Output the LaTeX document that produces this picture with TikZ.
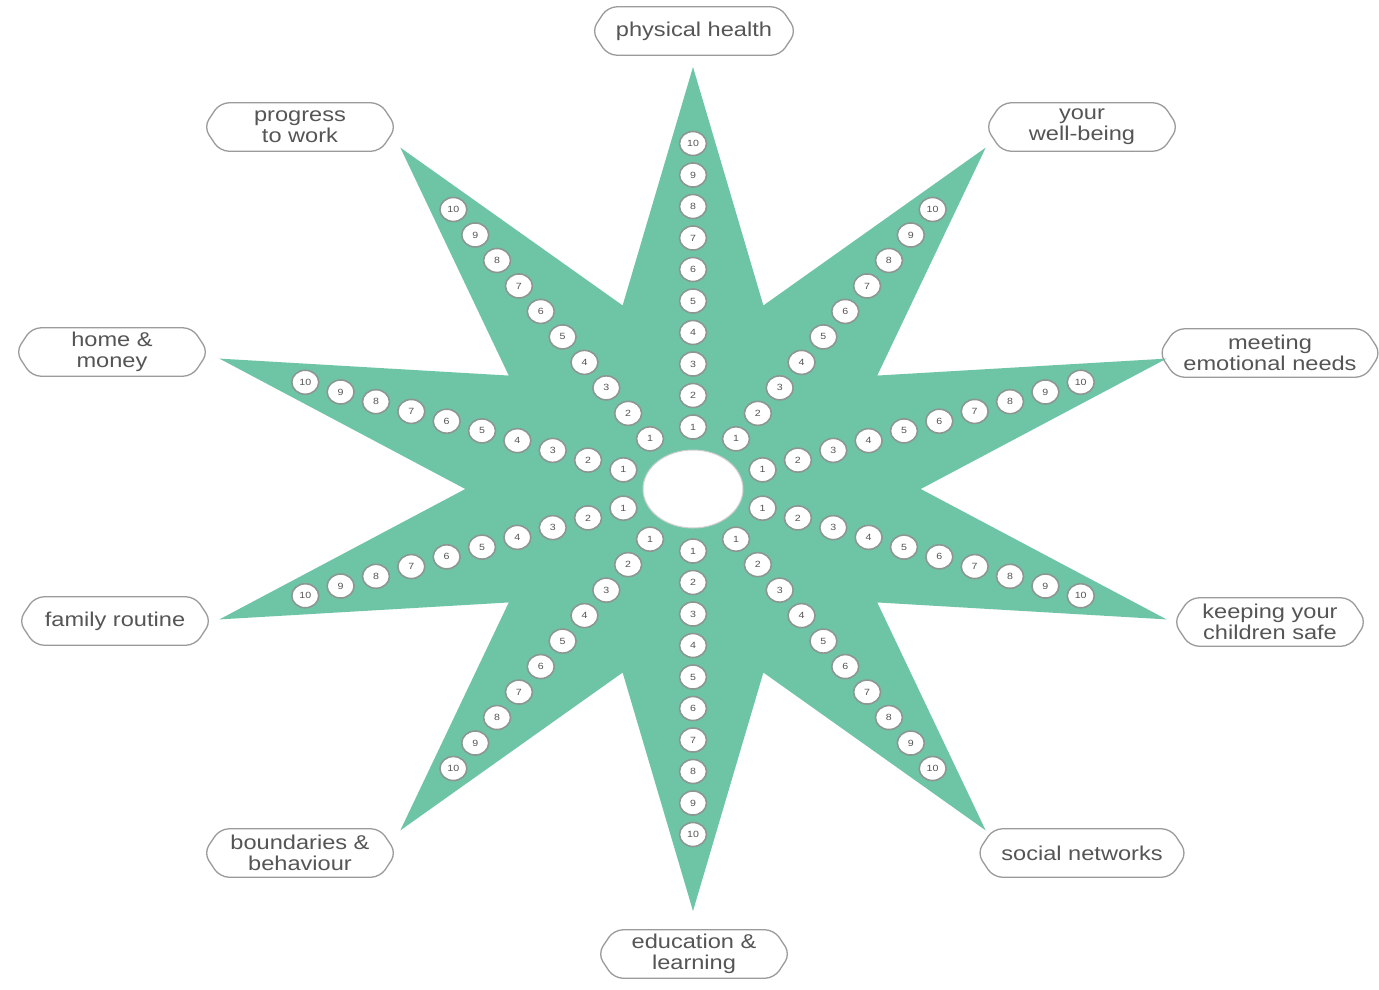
\documentclass[tikz,border=0pt]{standalone}
\usepackage{fontspec}
\newfontfamily\lblfont[FakeStretch=1.18]{Liberation Sans}
\usetikzlibrary{shapes.geometric,calc}
\definecolor{starteal}{RGB}{110,197,166}
\definecolor{boxgray}{RGB}{155,155,155}
\definecolor{txtgray}{RGB}{85,85,85}
\definecolor{dotgray}{RGB}{140,150,146}
\begin{document}
\begin{tikzpicture}[x=1pt,y=-1pt,
  dot/.style={ellipse,draw=dotgray,line width=1.6pt,fill=white,minimum width=27pt,minimum height=24pt,inner sep=0pt,font=\lblfont\fontsize{9}{9}\selectfont,text=txtgray},
  hubstyle/.style={ellipse,draw=boxgray!50,line width=1pt,fill=white,minimum width=100pt,minimum height=78pt},
  lbl/.style={align=center,font=\lblfont\fontsize{20}{21}\selectfont,text=txtgray,minimum width=160pt,minimum height=48pt,inner xsep=8pt,inner ysep=0pt},
  lblbox/.style={draw=boxgray,line width=1.3pt,rounded corners=9pt}]
\useasboundingbox[fill=white] (0,0) rectangle (1379,989);
\begin{scope}[shift={(693,489)},xscale=1.18]
  \fill[starteal] (90:422) \foreach \k in {0,...,9}{ -- ({90-36*\k}:422) -- ({72-36*\k}:193)} -- cycle;
  \node[hubstyle] (hub) at (0,0) {};
  \foreach \k in {0,...,9}{
    \foreach \j in {1,...,10}{
      \node[dot] (d\k-\j) at ({90-36*\k}:{62+31.5*(\j-1)}) {\j};
    }
  }
\end{scope}
\node[lbl] (l1) at (694,31) {physical health};
\node[lbl] (l2) at (1082,127) {your\\well-being};
\node[lbl] (l3) at (1270,353) {meeting\\emotional needs};
\node[lbl] (l4) at (1270,622) {keeping your\\children safe};
\node[lbl] (l5) at (1082,853) {social networks};
\node[lbl] (l6) at (694,954) {education \&\\learning};
\node[lbl] (l7) at (300,853) {boundaries \&\\behaviour};
\node[lbl] (l8) at (115,621) {family routine};
\node[lbl] (l9) at (112,352) {home \&\\money};
\node[lbl] (l10) at (300,127) {progress\\to work};
\foreach \n in {l1,l2,l3,l4,l5,l6,l7,l8,l9,l10}{
  \draw[lblbox] ($(\n.west)+(-16,0)$) -- (\n.north west) -- (\n.north east) -- ($(\n.east)+(16,0)$) -- (\n.south east) -- (\n.south west) -- cycle;
}
\end{tikzpicture}
\end{document}
